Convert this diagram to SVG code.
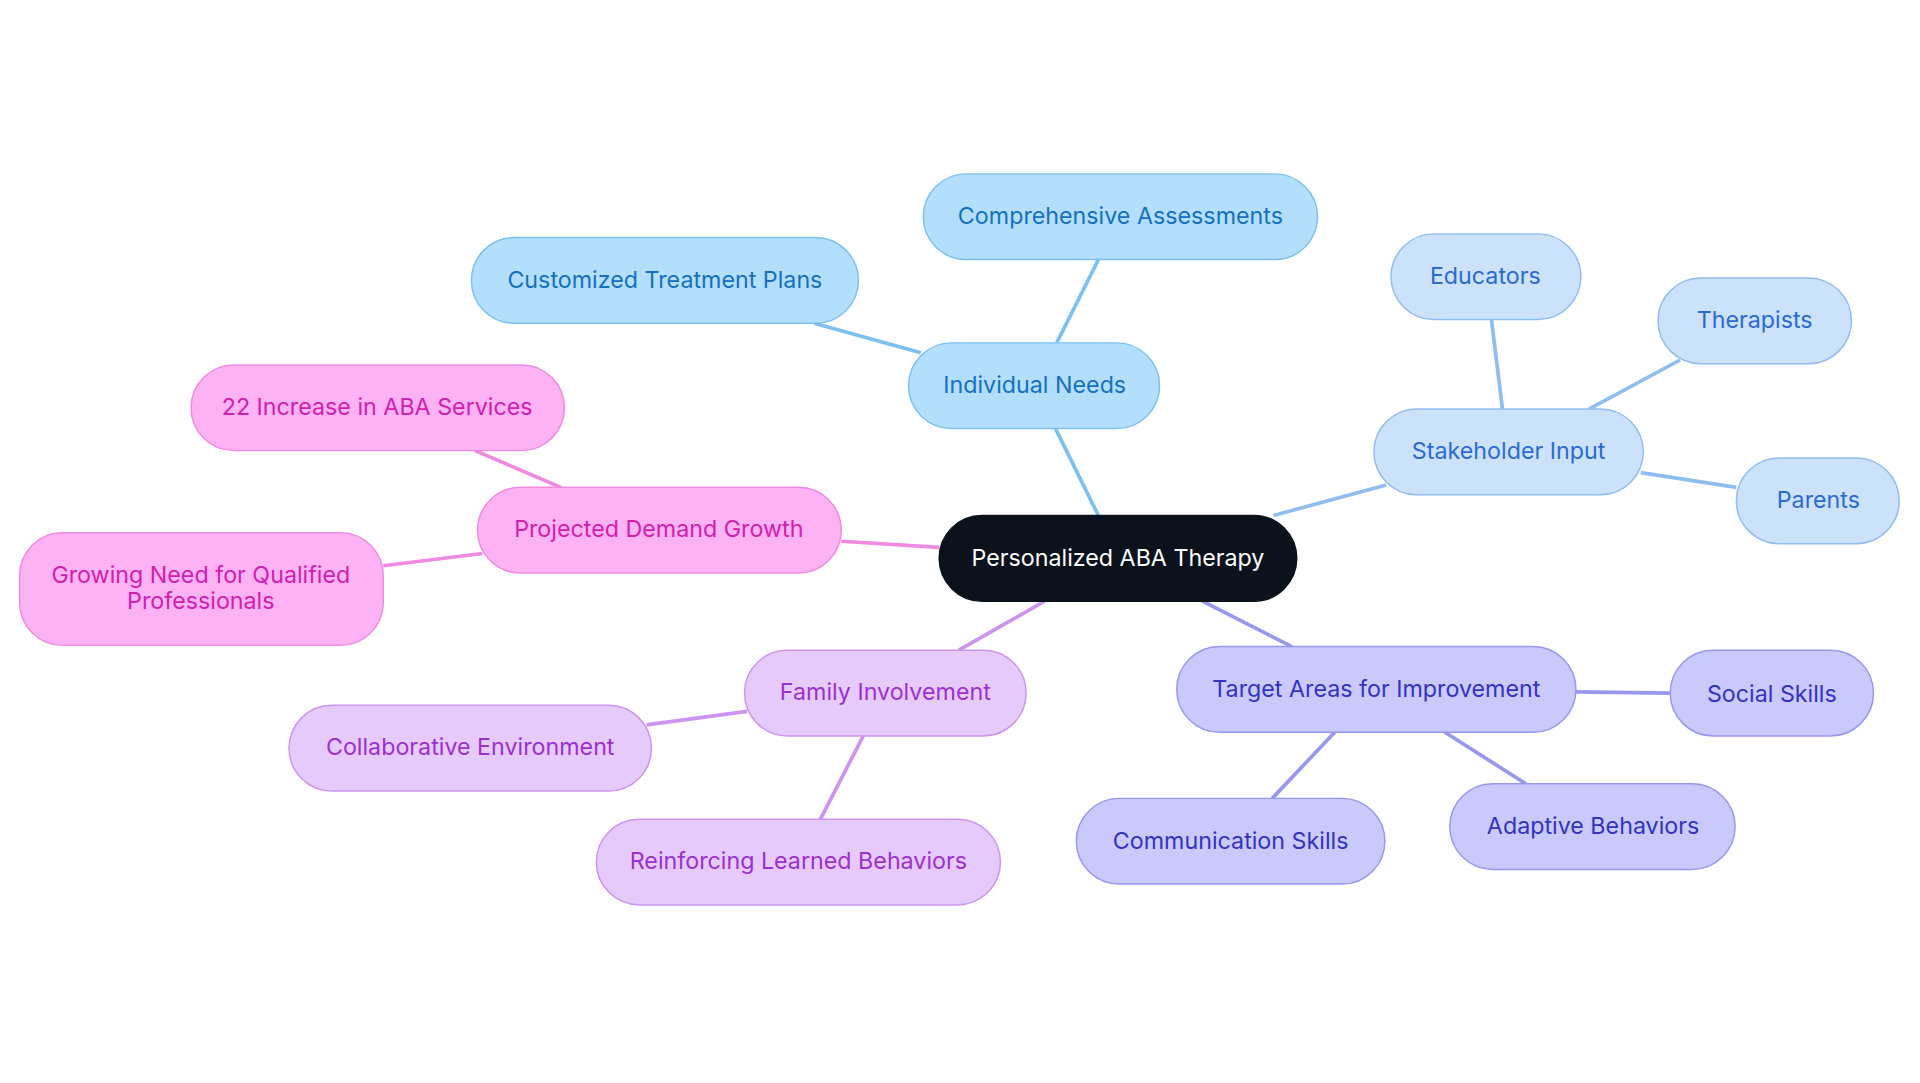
<svg xmlns="http://www.w3.org/2000/svg" width="1920" height="1083" viewBox="0 0 1920 1083">
<style>
text{font-family:Inter,"Noto Sans","Liberation Sans",sans-serif;font-size:19px;text-anchor:middle;dominant-baseline:central}
rect{stroke-width:1.2}
.c rect{fill:#0b121c;stroke:#0b121c}.c text{fill:#fff}
.b rect{fill:#b3dffc;stroke:#7cc0ef}.b text{fill:#1570c0}
.l rect{fill:#cce1fa;stroke:#90bdf0}.l text{fill:#2a6bd0}
.i rect{fill:#c9c9fb;stroke:#9797ee}.i text{fill:#3333c0}
.p rect{fill:#e6cafb;stroke:#cd94ef}.p text{fill:#9b30d0}
.k rect{fill:#fdb3f3;stroke:#f08ae0}.k text{fill:#d020b0}
#edges line{stroke-width:3}
</style>
<rect width="1920" height="1083" fill="#fff"/>
<g transform="scale(1.2245)">
<g id="edges">
<g stroke="#7cc0ef"><line x1="897" y1="421" x2="862" y2="350"/><line x1="863" y1="280" x2="897" y2="212"/><line x1="752" y1="288" x2="665" y2="264"/></g>
<g stroke="#90bdf0"><line x1="1040" y1="421" x2="1132" y2="396"/><line x1="1227" y1="334" x2="1218" y2="261"/><line x1="1298" y1="334" x2="1372" y2="294"/><line x1="1340" y1="386" x2="1418" y2="398"/></g>
<g stroke="#9797ee"><line x1="982" y1="491" x2="1055" y2="528"/><line x1="1287" y1="565" x2="1364" y2="566"/><line x1="1090" y1="598" x2="1039" y2="652"/><line x1="1180" y1="598" x2="1246" y2="640"/></g>
<g stroke="#cd94ef"><line x1="853" y1="491" x2="783" y2="531"/><line x1="610" y1="581" x2="528" y2="592"/><line x1="705" y1="601" x2="670" y2="669"/></g>
<g stroke="#f08ae0"><line x1="767" y1="447" x2="687" y2="442"/><line x1="458" y1="398" x2="388" y2="368"/><line x1="394" y1="452" x2="313" y2="462"/></g>
</g>
<g id="center" class="c"><rect x="767" y="421" width="292" height="70" rx="35"/><text x="913" y="455">Personalized ABA Therapy</text></g>
<g id="in" class="b"><rect x="742" y="280" width="205" height="70" rx="35"/><text x="845" y="314">Individual Needs</text></g>
<g id="ca" class="b"><rect x="754" y="142" width="322" height="70" rx="35"/><text x="915" y="176">Comprehensive Assessments</text></g>
<g id="ctp" class="b"><rect x="385" y="194" width="316" height="70" rx="35"/><text x="543" y="228">Customized Treatment Plans</text></g>
<g id="si" class="l"><rect x="1122" y="334" width="220" height="70" rx="35"/><text x="1232" y="368">Stakeholder Input</text></g>
<g id="edu" class="l"><rect x="1136" y="191" width="155" height="70" rx="35"/><text x="1213" y="225">Educators</text></g>
<g id="ther" class="l"><rect x="1354" y="227" width="158" height="70" rx="35"/><text x="1433" y="261">Therapists</text></g>
<g id="par" class="l"><rect x="1418" y="374" width="133" height="70" rx="35"/><text x="1485" y="408">Parents</text></g>
<g id="ta" class="i"><rect x="961" y="528" width="326" height="70" rx="35"/><text x="1124" y="562">Target Areas for Improvement</text></g>
<g id="ss" class="i"><rect x="1364" y="531" width="166" height="70" rx="35"/><text x="1447" y="566">Social Skills</text></g>
<g id="cs" class="i"><rect x="879" y="652" width="252" height="70" rx="35"/><text x="1005" y="686">Communication Skills</text></g>
<g id="ab" class="i"><rect x="1184" y="640" width="233" height="70" rx="35"/><text x="1301" y="674">Adaptive Behaviors</text></g>
<g id="fi" class="p"><rect x="608" y="531" width="230" height="70" rx="35"/><text x="723" y="565">Family Involvement</text></g>
<g id="ce" class="p"><rect x="236" y="576" width="296" height="70" rx="35"/><text x="384" y="610">Collaborative Environment</text></g>
<g id="rlb" class="p"><rect x="487" y="669" width="330" height="70" rx="35"/><text x="652" y="703">Reinforcing Learned Behaviors</text></g>
<g id="pdg" class="k"><rect x="390" y="398" width="297" height="70" rx="35"/><text x="538" y="432">Projected Demand Growth</text></g>
<g id="inc" class="k"><rect x="156" y="298" width="305" height="70" rx="35"/><text x="308" y="332">22 Increase in ABA Services</text></g>
<g id="gn" class="k"><rect x="16" y="435" width="297" height="92" rx="35"/><text x="164" y="469">Growing Need for Qualified</text><text x="164" y="490">Professionals</text></g>
</g>
</svg>
